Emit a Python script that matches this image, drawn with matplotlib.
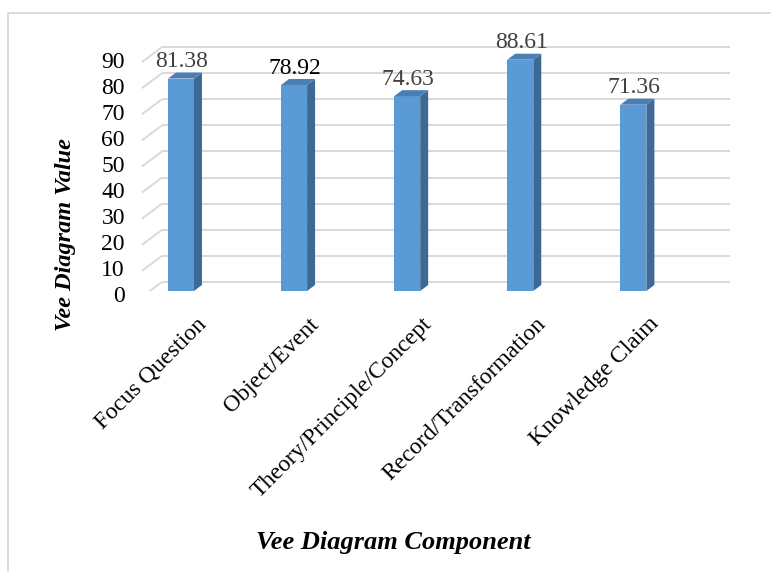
import matplotlib
matplotlib.use('Agg')
import matplotlib.pyplot as plt
from matplotlib.patches import Polygon, Rectangle

# chart data
components = ['Focus Question', 'Object/Event', 'Theory/Principle/Concept',
              'Record/Transformation', 'Knowledge Claim']
values = [81.38, 78.92, 74.63, 88.61, 71.36]
y_ticks = [0, 10, 20, 30, 40, 50, 60, 70, 80, 90]

plt.rcParams['font.family'] = ['Liberation Serif', 'DejaVu Serif']

fig = plt.figure(figsize=(7.71, 5.72), dpi=100)
ax = fig.add_axes([0.1467, 0.4913, 0.8215, 0.4563])
ax.set_xlim(-0.6, 5.0)
ax.set_ylim(0, 100)
ax.axis('off')

# pixel -> data unit helpers (axes is 633.4 px wide, 261 px tall)
ux = 5.6 / 633.4
uy = 100 / 261.0

grid_col = '#d9d9d9'
# back wall gridlines with the little floor/side diagonals
for v in y_ticks:
    yb = v + 9 * uy
    yf = v - 6 * uy
    ax.plot([-0.345, -0.168], [yf, yb], color=grid_col, lw=1.4, solid_capstyle='butt')
    ax.plot([-0.168, 4.854], [yb, yb], color=grid_col, lw=1.4, solid_capstyle='butt')
    ax.text(-0.495, yf, str(v), ha='right', va='center', fontsize=17, color='black')

# bars: front face + side + top for the 3D look
front = '#5b9bd5'
side = '#3d6a94'
top = '#4a7fb5'
bw = 26 * ux
dx = 8 * ux
dy = 6 * uy
label_cols = ['#404040', 'black', '#404040', '#404040', '#404040']
for i, v in enumerate(values):
    x0 = i - bw / 2
    x1 = i + bw / 2
    ax.add_patch(Rectangle((x0, 0), bw, v, facecolor=front, edgecolor='none', zorder=3))
    ax.add_patch(Polygon([(x1, 0), (x1 + dx, dy), (x1 + dx, v + dy), (x1, v)],
                         closed=True, facecolor=side, edgecolor='none', zorder=3))
    ax.add_patch(Polygon([(x0, v), (x1, v), (x1 + dx, v + dy), (x0 + dx, v + dy)],
                         closed=True, facecolor=top, edgecolor='none', zorder=3))
    ax.text(i + 1 * ux, v + 4.4, f'{v:.2f}', ha='center', va='baseline',
            fontsize=17, color=label_cols[i], zorder=4)
    ax.text(i + 22 * ux, -30 * uy, components[i], rotation=45, rotation_mode='anchor',
            ha='right', va='center', fontsize=17, color='black')

# axis titles
fig.text(393 / 771, 1 - 543 / 572, 'Vee Diagram Component', ha='center', va='center',
         fontsize=19, fontweight='bold', fontstyle='italic')
fig.text(65 / 771, 1 - 235 / 572, 'Vee Diagram Value', ha='center', va='center',
         rotation=90, fontsize=17.5, fontweight='bold', fontstyle='italic')

# chart area border (only left and top visible)
fig.add_artist(Rectangle((7.5 / 771, -0.1), 1.0, 1.1 - 12.5 / 572, transform=fig.transFigure,
                         fill=False, edgecolor=grid_col, lw=1.3))

fig.savefig('out.png', dpi=100)
